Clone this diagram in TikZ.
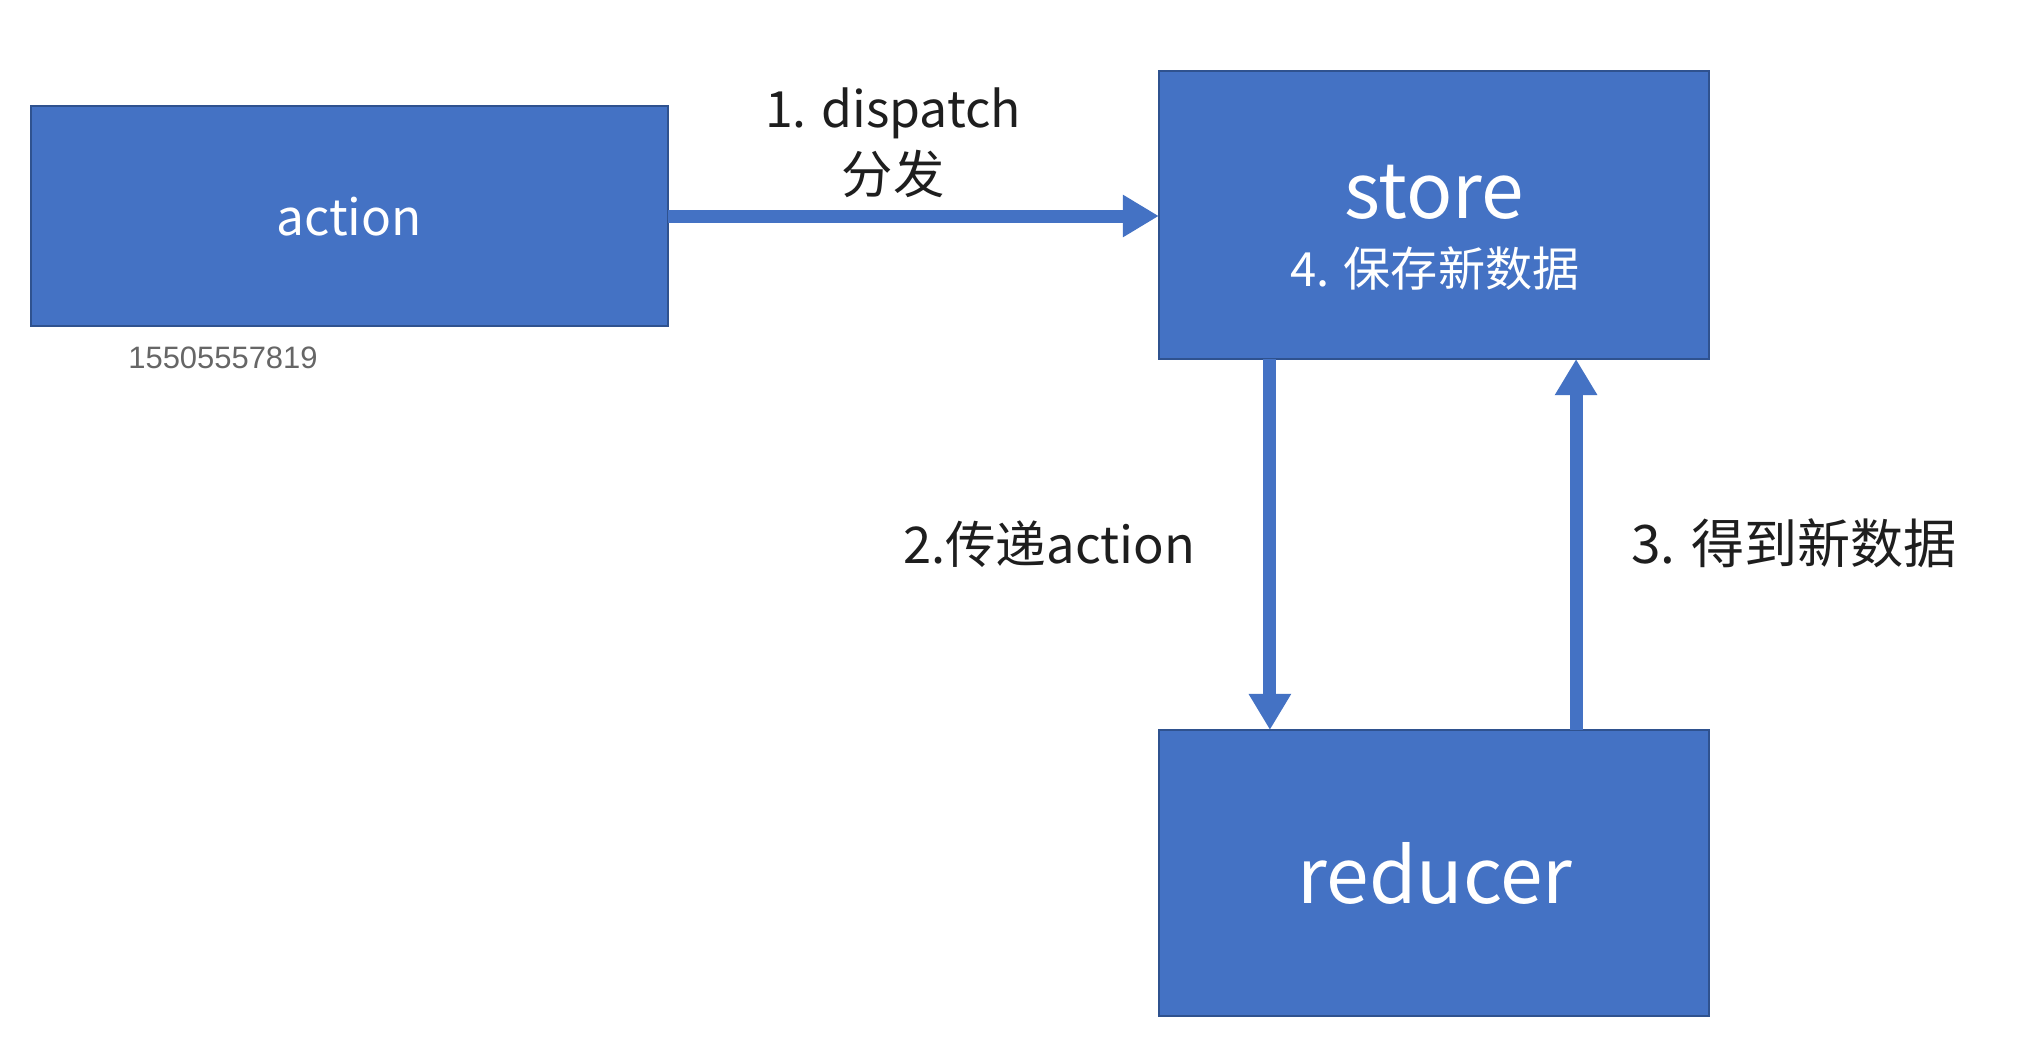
\documentclass[tikz,border=0pt]{standalone}
\usepackage{fontspec}
\setmainfont{Noto Sans CJK SC}
\newfontfamily\numfont{Liberation Sans}
\usetikzlibrary{arrows.meta}
\definecolor{boxblue}{HTML}{4472C4}
\definecolor{boxedge}{HTML}{2F528F}
\definecolor{labelink}{HTML}{1E1E1E}
\begin{document}
\begin{tikzpicture}[x=0.01cm,y=-0.01cm,
  bluebox/.style={draw=boxedge,fill=boxblue,line width=0.02cm,inner sep=0pt,outer sep=0pt},
  boxtext/.style={text=white,inner sep=0pt,anchor=base},
  lbl/.style={text=labelink,inner sep=0pt,anchor=base},
  flow/.style={draw=boxblue,line width=0.13cm,-{Triangle[length=0.36cm,width=0.40cm]}}]
\useasboundingbox[fill=white] (0,0) rectangle (2020,1048);

% boxes
\node[bluebox,minimum width=6.37cm,minimum height=2.20cm] (action) at (349.5,216) {};
\node[bluebox,minimum width=5.50cm,minimum height=2.88cm] (store) at (1434,215) {};
\node[bluebox,minimum width=5.50cm,minimum height=2.86cm] (reducer) at (1434,873) {};

% box texts
\node[boxtext,font=\fontsize{14.1pt}{16pt}\selectfont] (actiontxt) at (349,235) {action};
\node[boxtext,font=\fontsize{21.8pt}{24pt}\selectfont] (storetxt) at (1434,218) {store};
\node[boxtext,font=\fontsize{13.4pt}{16pt}\selectfont] (storesub) at (1435,286) {4. 保存新数据};
\node[boxtext,font=\fontsize{21.8pt}{24pt}\selectfont] (reducertxt) at (1435,903) {reducer};

% connectors
\draw[flow] (action.east) -- (action.east -| store.west);
\draw[flow] ([xshift=-1.64cm]store.south) -- ([xshift=-1.64cm]reducer.north);
\draw[flow] ([xshift=1.42cm]reducer.north) -- ([xshift=1.42cm]store.south);

% labels
\node[lbl,font=\fontsize{14.2pt}{16pt}\selectfont] (l1a) at (893,127) {1. dispatch};
\node[lbl,font=\fontsize{14.6pt}{16pt}\selectfont] (l1b) at (893,193) {分发};
\node[lbl,font=\fontsize{14.4pt}{16pt}\selectfont] (l2) at (1049,563) {2.传递action};
\node[lbl,font=\fontsize{15.1pt}{16pt}\selectfont] (l3) at (1794,563) {3. 得到新数据};

% phone number
\node[inner sep=0pt,anchor=base,text=gray!80!black,font=\numfont\fontsize{8.8pt}{10pt}\selectfont] (phone) at (223,368) {15505557819};
\end{tikzpicture}
\end{document}
